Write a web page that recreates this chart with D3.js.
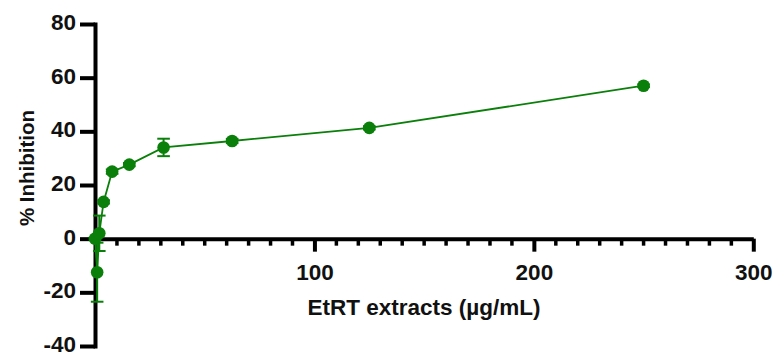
<!DOCTYPE html>
<html>
<head>
<meta charset="utf-8">
<script src="https://cdn.jsdelivr.net/npm/d3@7"></script>
<style>
  body { margin: 0; background: #fff; }
  text { font-family: "Liberation Sans", Arial, sans-serif; font-weight: bold; fill: #111; }
</style>
</head>
<body>
<svg id="chart"></svg>
<script>
// Data

const concentrations = [0, 0.98, 1.95, 3.91, 7.81, 15.63, 31.25, 62.5, 125, 250];
const inhibition = [0, -12.5, 2.0, 13.7, 25.0, 27.6, 34.0, 36.4, 41.3, 57.0];
const errors = [0.4, 11.0, 6.6, 0.6, 0.8, 0.6, 3.25, 0.8, 0.6, 0.5];

const yTicks = [-40, -20, 0, 20, 40, 60, 80];
const xMajorTicks = [100, 200, 300];
const xMinorTicks = d3.range(10, 300, 10).filter(d => d % 100 !== 0);

// Frame

const width = 774;
const height = 354;
const green = "#0a7f0a";

const x = d3.scaleLinear().domain([0, 300]).range([95, 753.3]);
const y = d3.scaleLinear().domain([-40, 80]).range([346, 24]);

const data = concentrations.map((c, i) => ({ x: c, y: inhibition[i], err: errors[i] }));

const svg = d3.select("#chart")
  .attr("width", width)
  .attr("height", height);

// Y axis (plain hyphen for negatives, like the original)

const yAxis = svg.append("g")
  .attr("transform", "translate(" + x(0) + ",0)")
  .call(d3.axisLeft(y).tickValues(yTicks).tickFormat(d => String(d))
    .tickSize(15).tickSizeOuter(0).tickPadding(4));

yAxis.select(".domain")
  .attr("stroke", "#000")
  .attr("stroke-width", 4)
  .attr("stroke-linecap", "square");

yAxis.selectAll(".tick line")
  .attr("stroke", "#000")
  .attr("stroke-width", 4);

yAxis.selectAll(".tick text")
  .attr("dy", "0.25em")
  .style("font-size", "22.5px")
  .style("font-family", "'Liberation Sans', Arial, sans-serif")
  .style("font-weight", "bold")
  .attr("fill", "#111");

// X axis

const xAxis = svg.append("g")
  .attr("transform", "translate(0," + y(0) + ")")
  .call(d3.axisBottom(x).tickValues(xMajorTicks).tickFormat(d => String(d))
    .tickSize(13).tickSizeOuter(0).tickPadding(0));

xAxis.select(".domain")
  .attr("stroke", "#000")
  .attr("stroke-width", 4);

xAxis.selectAll(".tick line")
  .attr("stroke", "#000")
  .attr("stroke-width", 4);

xAxis.selectAll(".tick text")
  .attr("y", 41)
  .attr("dy", 0)
  .style("font-size", "22.5px")
  .style("font-family", "'Liberation Sans', Arial, sans-serif")
  .style("font-weight", "bold")
  .attr("fill", "#111");

xAxis.selectAll(".minor")
  .data(xMinorTicks)
  .enter()
  .append("line")
  .attr("class", "minor")
  .attr("x1", d => x(d))
  .attr("x2", d => x(d))
  .attr("y1", 0)
  .attr("y2", 7)
  .attr("stroke", "#000")
  .attr("stroke-width", 3.5);

// Axis titles

svg.append("text")
  .attr("x", 424)
  .attr("y", 315)
  .attr("text-anchor", "middle")
  .style("font-size", "22.5px")
  .text("EtRT extracts (µg/mL)");

svg.append("text")
  .attr("transform", "translate(34,168) rotate(-90)")
  .attr("text-anchor", "middle")
  .style("font-size", "20.5px")
  .text("% Inhibition");

// Series

const line = d3.line()
  .x(d => x(d.x))
  .y(d => y(d.y));

svg.append("path")
  .datum(data)
  .attr("d", line)
  .attr("fill", "none")
  .attr("stroke", green)
  .attr("stroke-width", 1.8);

const bars = svg.append("g").selectAll("g")
  .data(data)
  .enter()
  .append("g")
  .attr("stroke", green)
  .attr("stroke-width", 2);

bars.append("line")
  .attr("x1", d => x(d.x))
  .attr("x2", d => x(d.x))
  .attr("y1", d => y(d.y - d.err))
  .attr("y2", d => y(d.y + d.err));

bars.append("line")
  .attr("x1", d => x(d.x) - 6.3)
  .attr("x2", d => x(d.x) + 6.3)
  .attr("y1", d => y(d.y + d.err))
  .attr("y2", d => y(d.y + d.err));

bars.append("line")
  .attr("x1", d => x(d.x) - 6.3)
  .attr("x2", d => x(d.x) + 6.3)
  .attr("y1", d => y(d.y - d.err))
  .attr("y2", d => y(d.y - d.err));

svg.append("g").selectAll("circle")
  .data(data)
  .enter()
  .append("circle")
  .attr("cx", d => x(d.x))
  .attr("cy", d => y(d.y))
  .attr("r", 6.3)
  .attr("fill", green);
</script>
</body>
</html>
